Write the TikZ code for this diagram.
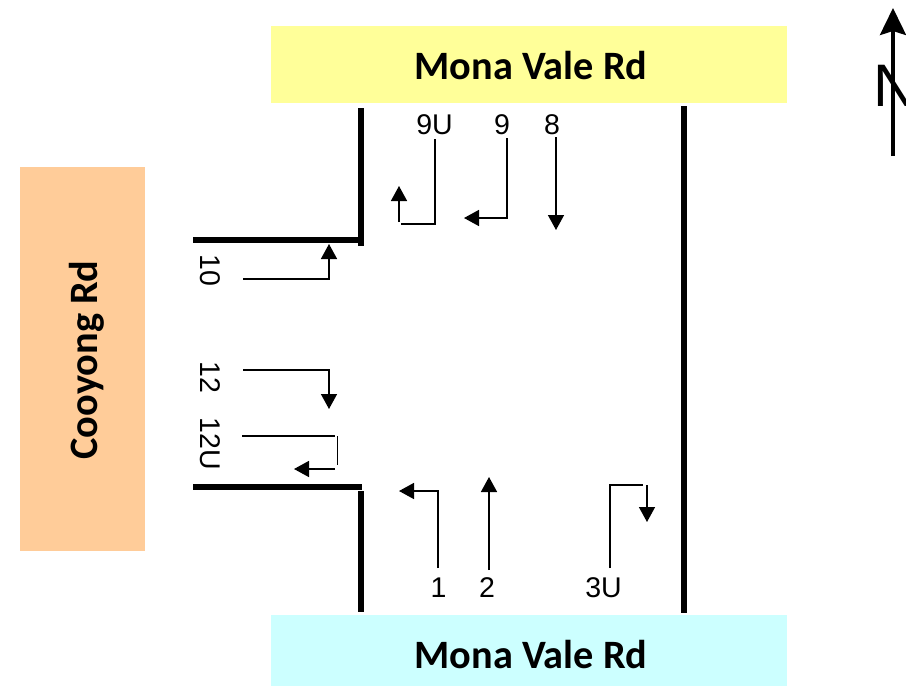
\documentclass[tikz,border=0pt]{standalone}
\usepackage{fontspec}
\setmainfont{Liberation Sans}
\newfontfamily\roadfont{Carlito}
\usetikzlibrary{arrows.meta, positioning}
\definecolor{roadyellow}{HTML}{FFFF99}
\definecolor{roadcyan}{HTML}{CCFFFF}
\definecolor{roadorange}{HTML}{FFCC99}

\begin{document}
\begin{tikzpicture}[
    x=1pt, y=-1pt,
    road/.style={rectangle, inner sep=0pt},
    roadname/.style={inner sep=0pt, font=\roadfont\bfseries\fontsize{40.3}{40}\selectfont},
    wall/.style={black, line width=5.5pt},
    lane/.style={black, line width=1.5pt, -{Triangle[length=15pt, width=16pt]}},
    stub/.style={black, line width=1.5pt},
    turn/.style={inner sep=0pt, font=\fontsize{28.5}{28}\selectfont}
]
    \useasboundingbox (0, 0) rectangle (906, 686);

    \node[road, fill=roadyellow, minimum width=516pt, minimum height=77pt] (north) at (529, 64.5) {};
    \node[road, fill=roadcyan, minimum width=516pt, minimum height=71pt] (south) at (529, 650.5) {};
    \node[road, fill=roadorange, minimum width=125pt, minimum height=384pt] (west) at (82.5, 359) {};
    \node[roadname] (northlabel) at (531, 65.5) {Mona Vale Rd};
    \node[roadname] (southlabel) at (531, 654.5) {Mona Vale Rd};
    \node[roadname, rotate=90] (westlabel) at (87, 360) {Cooyong Rd};

    \coordinate (nwa) at (361, 108);
    \coordinate (nwb) at (361, 246);
    \coordinate (nwc) at (193, 240);
    \coordinate (nwd) at (359, 240);
    \coordinate (swa) at (193, 487);
    \coordinate (swb) at (362, 487);
    \coordinate (swc) at (361, 491);
    \coordinate (swd) at (361, 612);
    \coordinate (ea) at (684, 106);
    \coordinate (eb) at (684, 613);
    \draw[wall] (nwa) -- (nwb);
    \draw[wall] (nwc) -- (nwd);
    \draw[wall] (swa) -- (swb);
    \draw[wall] (swc) -- (swd);
    \draw[wall] (ea) -- (eb);

    \node[turn] (t9U) at (434.5, 125) {9U};
    \node[turn] (t9) at (502, 125) {9};
    \node[turn] (t8) at (552, 125) {8};
    \node[turn, rotate=-90] (t10) at (210.5, 270) {10};
    \node[turn, rotate=-90] (t12) at (210.5, 377) {12};
    \node[turn, rotate=-90] (t12U) at (210.5, 444) {12U};
    \node[turn] (t1) at (438.5, 588) {1};
    \node[turn] (t2) at (487, 588) {2};
    \node[turn] (t3U) at (603.5, 588) {3U};

    \coordinate (a9Ua) at (435, 139);
    \coordinate (a9Ub) at (401, 224);
    \coordinate (a9Uc) at (399, 222);
    \coordinate (a9Ud) at (399, 186);
    \draw[stub] (a9Ua) |- (a9Ub);
    \draw[lane] (a9Uc) -- (a9Ud);

    \coordinate (a9a) at (507, 138);
    \coordinate (a9b) at (464, 218);
    \draw[lane] (a9a) |- (a9b);

    \coordinate (a8a) at (556, 137);
    \coordinate (a8b) at (556, 230);
    \draw[lane] (a8a) -- (a8b);

    \coordinate (a10a) at (243, 279);
    \coordinate (a10b) at (329, 244);
    \draw[lane] (a10a) -| (a10b);

    \coordinate (a12a) at (243, 370);
    \coordinate (a12b) at (329, 409);
    \draw[lane] (a12a) -| (a12b);

    \coordinate (a12Ua) at (242, 436);
    \coordinate (a12Ub) at (335, 436);
    \coordinate (a12Uc) at (337.5, 436);
    \coordinate (a12Ud) at (337.5, 465);
    \coordinate (a12Ue) at (335, 469);
    \coordinate (a12Uf) at (294, 469);
    \draw[stub] (a12Ua) -- (a12Ub);
    \draw[stub] (a12Uc) -- (a12Ud);
    \draw[lane] (a12Ue) -- (a12Uf);

    \coordinate (a1a) at (438, 568);
    \coordinate (a1b) at (399, 491);
    \draw[lane] (a1a) |- (a1b);

    \coordinate (a2a) at (489, 570);
    \coordinate (a2b) at (489, 477);
    \draw[lane] (a2a) -- (a2b);

    \coordinate (a3Ua) at (610, 568);
    \coordinate (a3Ub) at (643, 485);
    \coordinate (a3Uc) at (647, 485);
    \coordinate (a3Ud) at (647, 522);
    \draw[stub] (a3Ua) |- (a3Ub);
    \draw[lane] (a3Uc) -- (a3Ud);

    \node[inner sep=0pt, anchor=west, font=\fontsize{60}{60}\selectfont] (northN) at (873.5, 85.5) {N};
    \coordinate (na) at (893, 156);
    \coordinate (nb) at (893, 8);
    \draw[black, line width=3.5pt, -{Stealth[length=27pt, width=26pt, inset=4pt]}] (na) -- (nb);
\end{tikzpicture}
\end{document}
